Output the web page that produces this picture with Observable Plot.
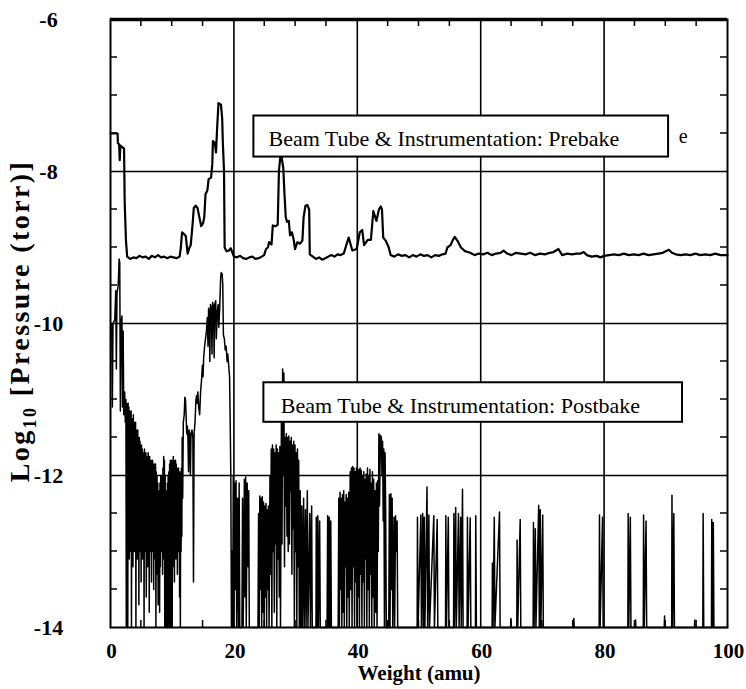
<!DOCTYPE html>
<html>
<head>
<meta charset="utf-8">
<script src="https://cdn.jsdelivr.net/npm/d3@7"></script>
<script src="https://cdn.jsdelivr.net/npm/@observablehq/plot@0.6"></script>
<style>
  html, body { margin: 0; padding: 0; background: white; }
  #chart svg { display: block; }
</style>
</head>
<body>
<div id="chart"></div>
<script>
// ---- data ----
const xTicks = [0, 20, 40, 60, 80, 100];
const yTicks = [-6, -8, -10, -12, -14];
const gridX = [20, 40, 60, 80];
const gridY = [-8, -10, -12];
const minorX = [5, 10, 15, 25, 30, 35, 45, 50, 55, 65, 70, 75, 85, 90, 95];
const minorY = [-13.5, -13, -12.5, -11.5, -11, -10.5, -9.5, -9, -8.5, -7.5, -7, -6.5];

// Prebake spectrum [amu, log10 P]
const prebake = [
[0,-7.5],[1.15,-7.5],[1.2,-7.63],[1.4,-7.64],[1.5,-7.85],[1.6,-7.66],[1.9,-7.68],[2.2,-7.7],[2.3,-8.4],[2.5,-8.9],[2.7,-9.12],
[3.2,-9.15],[3.7,-9.13],[4.2,-9.14],[4.7,-9.11],[5.2,-9.13],[5.7,-9.12],[6.2,-9.15],[6.7,-9.11],[7.2,-9.13],[7.7,-9.10],[8.2,-9.13],[8.7,-9.12],[9.2,-9.14],[9.7,-9.12],[10.2,-9.13],[10.7,-9.14],[11.2,-9.12],
[11.4,-9.0],[11.6,-8.8],[11.9,-8.82],[12.2,-8.85],[12.5,-9.08],[12.8,-9.0],[13.0,-8.97],[13.3,-8.7],[13.5,-8.48],[13.8,-8.45],[14.1,-8.48],[14.4,-8.6],[14.7,-8.72],[15.0,-8.68],[15.2,-8.6],[15.4,-8.3],[15.7,-8.25],[15.9,-8.1],[16.3,-8.08],[16.5,-7.9],[16.6,-7.6],[16.9,-7.62],[17.1,-7.75],[17.3,-7.4],[17.5,-7.1],[17.9,-7.12],[18.1,-7.3],[18.2,-7.6],[18.4,-8.0],[18.5,-9.0],[18.8,-9.05],[19.2,-9.04],[19.5,-9.01],[20.0,-9.12],
[20.5,-9.13],[21.0,-9.11],[21.5,-9.14],[22.0,-9.15],[22.5,-9.13],[23.0,-9.12],[23.5,-9.15],[24.0,-9.14],[24.5,-9.12],[24.9,-9.1],[25.2,-9.02],[25.5,-9.0],[25.7,-8.93],[26.1,-8.96],[26.3,-8.71],[26.8,-8.72],[27.1,-8.7],[27.3,-7.99],[27.6,-7.75],[28.0,-7.95],[28.2,-8.3],[28.4,-8.6],[28.6,-8.66],[28.9,-8.65],[29.1,-8.84],[29.4,-8.8],[29.7,-8.9],[29.9,-9.02],[30.3,-8.93],[30.7,-8.95],[31.1,-8.91],[31.3,-8.6],[31.6,-8.45],[31.9,-8.44],[32.2,-8.5],[32.3,-9.09],[32.8,-9.12],[33.3,-9.15],[33.8,-9.13],[34.3,-9.16],[34.8,-9.14],[35.3,-9.12],[35.8,-9.1],[36.3,-9.12],[36.8,-9.09],[37.3,-9.1],[37.8,-9.08],[38.1,-9.0],[38.6,-8.87],[39.2,-9.04],[39.9,-9.02],[40.4,-8.8],[40.8,-8.77],[41.1,-8.97],[41.7,-8.9],[42.2,-8.9],[42.6,-8.52],[43.1,-8.65],[43.5,-8.5],[43.8,-8.46],[44.0,-8.5],[44.2,-8.87],[44.6,-8.91],[45.1,-9.0],[45.4,-9.1],
[46.0,-9.12],[46.6,-9.09],[47.2,-9.11],[47.8,-9.1],[48.4,-9.13],[49.0,-9.1],[49.6,-9.12],[50.2,-9.09],[50.8,-9.11],[51.4,-9.1],[52.0,-9.13],[52.6,-9.1],[53.2,-9.11],[53.8,-9.09],[54.3,-9.08],[54.6,-9.0],[55.1,-8.97],[55.5,-8.9],[55.8,-8.86],[56.3,-8.92],[56.8,-9.0],[57.5,-9.05],[58.3,-9.07],[59.0,-9.1],[59.7,-9.08],[60.4,-9.09],[61.1,-9.07],[61.8,-9.1],[62.5,-9.08],[63.2,-9.07],[63.7,-9.04],[64.3,-9.08],[65.0,-9.1],[65.7,-9.07],[66.5,-9.08],[67.3,-9.09],[68.0,-9.07],[68.8,-9.1],[69.6,-9.08],[70.4,-9.09],[71.2,-9.07],[71.8,-9.06],[72.6,-9.02],[73.2,-9.1],[74.0,-9.08],[74.8,-9.09],[75.5,-9.08],[76.2,-9.08],[76.7,-9.06],[77.2,-9.1],[78.0,-9.12],[78.8,-9.11],[79.4,-9.13],[80.0,-9.11],[80.8,-9.1],[81.6,-9.09],[82.4,-9.1],[83.2,-9.08],[84.0,-9.1],[84.8,-9.09],[85.6,-9.1],[86.4,-9.08],[87.2,-9.1],[88.0,-9.09],[88.8,-9.08],[89.5,-9.07],[90.0,-9.05],[90.5,-9.03],[91.0,-9.07],[91.6,-9.09],[92.4,-9.1],[93.2,-9.09],[94.0,-9.1],[94.8,-9.08],[95.6,-9.1],[96.4,-9.09],[97.2,-9.1],[98.0,-9.08],[98.9,-9.1],[99.7,-9.1],[100,-9.1]
];

// Postbake spectrum, 0-20 amu
const postbakeLow = [
[0,-10.05],[0.2,-10.0],[0.3,-11.1],[0.4,-10.0],[0.7,-9.95],[0.85,-9.57],[0.95,-10.6],[1.05,-9.6],[1.25,-9.5],[1.4,-9.15],[1.5,-9.2],[1.6,-11.15],[1.7,-10.0],[1.85,-9.9],[1.95,-11.1],[2.05,-10.1],[2.15,-11.2],[2.3,-10.9],[2.4,-11.3],
[2.50,-11.0],[2.56,-14.0],[2.62,-11.05],[2.68,-13.2],[2.74,-11.1],[2.80,-14.0],[2.86,-11.05],[2.92,-12.9],[2.98,-11.1],[3.04,-13.1],[3.10,-11.15],[3.16,-12.8],[3.22,-11.2],[3.28,-13.0],[3.34,-11.15],[3.40,-14.0],[3.46,-11.25],[3.52,-12.7],[3.58,-11.3],[3.64,-13.2],[3.70,-11.2],[3.76,-12.9],[3.82,-11.3],[3.88,-13.0],[3.94,-11.35],[4.00,-12.8],[4.06,-11.3],[4.12,-14.0],[4.18,-11.4],[4.24,-12.9],[4.30,-11.45],[4.36,-13.1],[4.42,-11.4],[4.48,-12.8],[4.54,-11.5],[4.60,-13.7],[4.66,-11.5],[4.72,-12.9],[4.78,-11.55],[4.84,-13.0],[4.90,-11.6],[4.96,-13.4],[5.02,-11.6],[5.08,-12.9],[5.14,-11.65],[5.20,-13.1],[5.26,-11.7],[5.32,-12.8],[5.38,-11.7],[5.44,-14.0],[5.50,-11.65],[5.56,-12.9],[5.62,-11.75],[5.68,-13.0],[5.74,-11.7],[5.80,-13.6],[5.86,-11.75],[5.92,-12.9],[5.98,-11.8],[6.04,-13.2],[6.10,-11.7],[6.16,-12.9],[6.22,-11.8],[6.28,-13.8],[6.34,-11.75],[6.40,-13.0],[6.46,-11.85],[6.52,-12.9],[6.58,-11.8],[6.64,-13.4],[6.70,-11.85],[6.76,-13.0],[6.82,-11.8],[6.88,-12.9],[6.94,-11.9],[7.00,-13.5],[7.06,-11.85],[7.12,-13.0],[7.18,-11.9],[7.24,-13.1],[7.30,-11.85],[7.36,-14.0],[7.42,-11.95],[7.48,-12.9],[7.54,-12.0],[7.60,-13.3],[7.66,-12.1],[7.72,-13.7],[7.78,-12.3],[7.84,-13.0],[7.90,-12.2],[7.96,-13.8],[8.02,-12.1],[8.08,-13.2],[8.14,-12.0],[8.20,-12.8],
[8.26,-12.15],[8.32,-13.0],[8.38,-12.0],[8.44,-13.3],[8.50,-11.9],[8.56,-12.9],[8.62,-11.75],[8.68,-13.1],[8.74,-11.8],[8.80,-14.0],[8.86,-12.0],[8.92,-13.6],[8.98,-12.2],[9.04,-14.0],[9.10,-12.3],[9.16,-13.5],[9.22,-12.1],[9.28,-14.0],[9.34,-12.0],[9.40,-13.8],[9.46,-11.95],[9.52,-14.0],[9.58,-11.85],[9.64,-13.7],[9.70,-11.8],[9.76,-14.0],[9.82,-11.9],[9.88,-13.6],[9.94,-11.8],[10.00,-14.0],[10.06,-11.85],[10.12,-13.2],[10.18,-11.75],[10.24,-12.9],[10.30,-11.8],[10.36,-13.4],[10.42,-11.9],[10.48,-12.9],[10.54,-11.8],[10.60,-13.1],[10.66,-11.85],[10.72,-12.8],[10.78,-11.9],[10.84,-13.3],[10.90,-11.95],[10.96,-12.9],[11.02,-11.9],[11.08,-13.0],[11.14,-12.0],[11.20,-13.6],[11.26,-11.95],[11.32,-14.0],[11.38,-12.05],[11.44,-13.0],[11.50,-11.9],[11.56,-12.8],[11.62,-11.5],[11.70,-12.3],[11.80,-11.3],[11.95,-11.2],[12.05,-10.97],[12.15,-11.0],[12.25,-11.2],[12.35,-11.45],[12.45,-11.35],[12.55,-11.5],[12.65,-11.95],[12.75,-11.4],[12.85,-11.5],[12.95,-12.0],[13.05,-11.45],[13.2,-11.4],[13.35,-11.5],[13.45,-13.4],[13.55,-11.45],[13.7,-11.3],[13.85,-11.0],[13.95,-10.95],[14.05,-11.05],[14.15,-10.9],[14.3,-11.1],[14.45,-11.2],[14.6,-10.9],[14.75,-10.75],[14.9,-10.55],[15.0,-10.7],[15.1,-10.45],[15.25,-10.3],[15.4,-10.2],[15.55,-10.1],[15.7,-9.92],[15.8,-10.3],[15.9,-9.8],[16.0,-9.85],[16.1,-10.5],[16.2,-9.75],[16.35,-9.8],[16.45,-10.4],[16.55,-9.72],[16.7,-9.78],[16.8,-10.45],[16.9,-9.75],[17.05,-9.7],[17.15,-10.2],[17.3,-9.85],[17.45,-9.75],[17.55,-10.05],[17.7,-9.8],[17.85,-9.4],[17.95,-9.33],[18.1,-9.35],[18.2,-9.5],[18.3,-10.15],[18.45,-10.2],[18.6,-10.35],[18.75,-10.3],[18.9,-10.5],[19.0,-10.4],[19.15,-10.55],[19.3,-10.7],[19.4,-11.3],[19.5,-12.0],[19.6,-14.0],[19.7,-13.0],[19.8,-14.0]
];

// Postbake spectrum, 20-46.5 amu
const postbakeMid = [
[19.9,-12.0],[20.0,-14.0],[20.1,-12.1],[20.25,-13.5],[20.35,-12.07],[20.45,-14.0],[20.6,-12.3],[20.75,-14.0],[20.85,-12.1],[20.95,-14.0],[21.3,-14.0],[21.4,-12.3],[21.5,-14.0],[21.7,-12.05],[21.8,-13.6],[21.9,-12.02],[22.0,-14.0],[22.15,-12.1],[22.3,-13.2],[22.4,-12.2],[22.5,-14.0],
[23.9,-14.0],[24.0,-12.5],[24.1,-14.0],[24.2,-12.27],[24.3,-13.5],[24.4,-12.3],[24.5,-14.0],[24.6,-12.28],[24.7,-13.8],[24.8,-12.35],[24.9,-14.0],[25.0,-12.4],[25.1,-13.6],[25.2,-12.37],[25.3,-14.0],[25.4,-12.45],[25.5,-13.5],[25.6,-12.4],[25.7,-14.0],[25.85,-12.0],[25.95,-13.3],[26.05,-11.65],[26.15,-14.0],[26.25,-11.6],[26.35,-13.0],[26.45,-11.65],[26.55,-13.8],[26.65,-11.7],[26.75,-12.9],[26.85,-11.6],[26.95,-14.0],[27.05,-11.65],[27.15,-13.1],[27.25,-11.7],[27.35,-13.6],[27.45,-11.62],[27.55,-14.0],[27.7,-11.3],[27.8,-12.9],[27.9,-10.6],[28.0,-12.0],[28.1,-10.65],[28.2,-13.2],[28.3,-11.5],[28.4,-12.4],[28.5,-11.45],[28.6,-12.8],[28.7,-11.5],[28.8,-13.0],[28.9,-11.48],[29.0,-12.9],[29.1,-11.55],[29.2,-12.2],[29.3,-11.5],[29.4,-13.3],[29.5,-11.6],[29.6,-12.7],[29.7,-11.55],[29.8,-14.0],[29.9,-11.6],[30.0,-13.0],[30.1,-11.7],[30.2,-14.0],[30.3,-11.65],[30.4,-13.2],[30.5,-11.8],[30.6,-14.0],[30.75,-12.2],[30.85,-14.0],[31.0,-12.4],[31.1,-14.0],[31.3,-12.3],[31.4,-14.0],[31.6,-12.45],[31.7,-14.0],[31.9,-12.2],[32.0,-14.0],[32.3,-12.5],[32.4,-14.0],[32.6,-12.4],[32.7,-14.0],
[33.3,-14.0],[33.35,-12.55],[33.45,-14.0],[33.6,-12.53],[33.7,-14.0],[33.9,-12.6],[34.0,-14.0],[35.1,-14.0],[35.2,-12.53],[35.3,-14.0],[35.45,-12.55],[35.55,-14.0],[35.7,-12.6],[35.8,-14.0],
[36.9,-14.0],[37.0,-12.3],[37.1,-14.0],[37.2,-12.22],[37.3,-13.5],[37.4,-12.3],[37.5,-14.0],[37.6,-12.25],[37.7,-13.8],[37.8,-12.2],[37.9,-14.0],[38.0,-12.35],[38.1,-13.2],[38.2,-12.25],[38.3,-14.0],[38.4,-12.3],[38.5,-13.6],[38.6,-12.22],[38.7,-14.0],[38.85,-11.95],[38.95,-13.5],[39.05,-11.9],[39.15,-14.0],[39.25,-11.88],[39.35,-13.2],[39.45,-11.9],[39.55,-14.0],[39.65,-11.95],[39.75,-13.4],[39.85,-11.9],[39.95,-14.0],[40.05,-11.95],[40.15,-13.6],[40.25,-11.92],[40.35,-14.0],[40.45,-11.9],[40.55,-13.3],[40.65,-11.93],[40.75,-14.0],[40.85,-12.0],[40.95,-13.4],[41.05,-11.95],[41.15,-14.0],[41.25,-12.05],[41.35,-13.1],[41.45,-11.98],[41.55,-14.0],[41.65,-11.9],[41.75,-13.5],[41.85,-12.0],[41.95,-14.0],[42.05,-11.92],[42.15,-13.3],[42.25,-12.1],[42.35,-14.0],[42.45,-11.95],[42.55,-13.6],[42.65,-12.05],[42.75,-14.0],[42.9,-12.2],[43.0,-13.8],[43.1,-12.1],[43.2,-14.0],[43.3,-12.07],[43.4,-13.0],[43.5,-11.45],[43.6,-12.4],[43.75,-11.47],[43.9,-11.5],[44.0,-12.0],[44.1,-11.55],[44.2,-12.6],[44.3,-11.65],[44.4,-14.0],[44.5,-11.7],[44.6,-12.5],[44.7,-14.0],
[45.1,-14.0],[45.2,-12.25],[45.3,-14.0],[45.45,-12.24],[45.55,-13.5],[45.65,-12.3],[45.75,-14.0],[45.95,-12.55],[46.05,-14.0],[46.2,-12.53],[46.3,-13.0],[46.45,-12.6],[46.55,-14.0]
];

// Postbake spectrum, 46.5-100 amu
const postbakeHigh = [
[49.7,-14.0],[49.75,-12.55],[49.85,-14.0],[50.3,-12.52],[50.4,-14.0],[50.6,-12.5],[50.7,-14.0],[50.85,-12.55],[50.95,-14.0],[51.3,-12.15],[51.4,-14.0],[51.6,-12.52],[51.7,-14.0],[52.4,-12.53],[52.5,-14.0],[52.95,-12.58],[53.05,-14.0],
[54.3,-14.0],[54.35,-12.53],[54.45,-14.0],[54.75,-12.55],[54.85,-14.0],[55.6,-14.0],[55.65,-12.5],[55.75,-14.0],[55.95,-12.42],[56.05,-14.0],[56.4,-12.5],[56.5,-14.0],[56.75,-12.55],[56.85,-14.0],[57.05,-12.18],[57.15,-14.0],[57.8,-14.0],[57.85,-12.55],[57.95,-14.0],[58.3,-12.56],[58.4,-14.0],[59.15,-14.0],[59.2,-12.53],[59.3,-14.0],
[61.85,-14.0],[61.9,-13.15],[62.0,-14.0],[62.2,-12.55],[62.3,-14.0],[63.05,-12.48],[63.15,-14.0],[64.85,-14.0],[64.9,-13.88],[64.95,-14.0],[65.85,-14.0],[65.9,-12.85],[66.0,-14.0],[66.4,-12.58],[66.5,-14.0],
[68.5,-14.0],[68.55,-12.62],[68.65,-14.0],[68.85,-12.7],[68.95,-14.0],[69.4,-12.39],[69.5,-14.0],[69.65,-12.45],[69.75,-14.0],[70.05,-12.52],[70.15,-14.0],
[75.05,-14.0],[75.1,-13.88],[75.15,-14.0],[79.2,-14.0],[79.25,-12.52],[79.35,-14.0],[79.75,-12.55],[79.85,-14.0],[83.85,-14.0],[83.9,-12.5],[84.0,-14.0],[84.25,-12.55],[84.35,-14.0],[85.05,-14.0],[85.1,-13.9],[85.15,-14.0],[86.35,-14.0],[86.4,-12.52],[86.5,-14.0],[86.8,-12.6],[86.9,-14.0],
[89.75,-14.0],[89.8,-13.85],[89.85,-14.0],[90.95,-14.0],[91.0,-12.26],[91.1,-14.0],[91.3,-12.5],[91.4,-14.0],[94.65,-14.0],[94.7,-13.9],[94.75,-14.0],[96.0,-14.0],[96.05,-12.5],[96.15,-14.0],[97.4,-14.0],[97.45,-12.58],[97.55,-14.0],[97.7,-12.62],[97.8,-14.0],[100,-14.0]
];
const postbake = postbakeLow.concat(postbakeMid, postbakeHigh);

// Labelled boxes
const boxLabels = ["Beam Tube & Instrumentation: Prebake", "Beam Tube & Instrumentation: Postbake"];
const boxX1 = [23.24, 24.86];
const boxX2 = [90.45, 92.71];
const boxTop = [-7.27, -10.78];
const boxBottom = [-7.81, -11.30];
const labelX = [25.6, 27.6];
const labelY = [-7.566, -11.09];
const boxes = boxLabels.map((label, i) => ({label, x1: boxX1[i], x2: boxX2[i], y1: boxBottom[i], y2: boxTop[i], tx: labelX[i], ty: labelY[i]}));
const strayText = [{t: "e", x: 92.1, y: -7.54}];

const serif = "'Liberation Serif', 'Times New Roman', Times, serif";

const chart = Plot.plot({
  width: 746,
  height: 689,
  marginLeft: 110,
  marginRight: 19,
  marginTop: 19,
  marginBottom: 62,
  x: {domain: [0, 100]},
  y: {domain: [-14, -6]},
  style: {fontFamily: serif, background: "white", color: "black", overflow: "visible"},
  marks: [
    Plot.ruleX(gridX, {stroke: "black", strokeWidth: 1.6}),
    Plot.ruleY(gridY, {stroke: "black", strokeWidth: 1.6}),
    Plot.line(postbake, {x: d => d[0], y: d => d[1], stroke: "black", strokeWidth: 1.5}),
    Plot.line(prebake, {x: d => d[0], y: d => d[1], stroke: "black", strokeWidth: 2.2}),
    Plot.rect(boxes, {x1: "x1", x2: "x2", y1: "y1", y2: "y2", fill: "white", stroke: "black", strokeWidth: 2}),
    Plot.text(boxes, {x: "tx", y: "ty", text: "label", textAnchor: "start", fontSize: 22, fill: "black"}),
    Plot.text(strayText, {x: "x", y: "y", text: "t", textAnchor: "start", fontSize: 20, fill: "black"}),
    Plot.frame({stroke: "black", strokeWidth: 2}),
    Plot.ruleY([-6], {stroke: "black", strokeWidth: 3.5}),
    Plot.axisX(xTicks, {tickSize: 0, tickPadding: 16, dx: 1, fontSize: 21, fontWeight: "bold", tickFormat: d => String(d), label: null}),
    Plot.axisY(yTicks, {tickSize: 0, tickPadding: 62, textAnchor: "middle", fontSize: 22, fontWeight: "bold", tickFormat: d => String(d), label: null}),
    Plot.text(["Weight (amu)"], {frameAnchor: "bottom", dy: 52, text: d => d, fontSize: 21, fontWeight: "bold", fill: "black"})
  ]
});

document.getElementById("chart").appendChild(chart);

// inward minor ticks on all four sides, placed through the chart's own scales
const sx = chart.scale("x"), sy = chart.scale("y");
const svg = d3.select(chart);
const tickLen = 7;
const g = svg.append("g").attr("stroke", "black").attr("stroke-width", 1.5);
const yBottom = sy.apply(-14), yTop = sy.apply(-6), xLeft = sx.apply(0), xRight = sx.apply(100);
minorX.forEach(v => {
  const px = sx.apply(v);
  g.append("line").attr("x1", px).attr("x2", px).attr("y1", yBottom).attr("y2", yBottom - tickLen);
  g.append("line").attr("x1", px).attr("x2", px).attr("y1", yTop).attr("y2", yTop + tickLen);
});
minorY.forEach(v => {
  const py = sy.apply(v);
  g.append("line").attr("y1", py).attr("y2", py).attr("x1", xLeft).attr("x2", xLeft + tickLen);
  g.append("line").attr("y1", py).attr("y2", py).attr("x1", xRight).attr("x2", xRight - tickLen);
});

// Y-axis title with a real subscript
const title = svg.append("text")
  .attr("transform", "rotate(-90)")
  .attr("x", -321)
  .attr("y", 29)
  .attr("text-anchor", "middle")
  .attr("fill", "black")
  .style("font-family", serif)
  .style("font-weight", "bold")
  .style("font-size", "28px")
  .style("letter-spacing", "2.4px");
title.append("tspan").text("Log");
title.append("tspan").attr("dy", 7).style("font-size", "18px").text("10");
title.append("tspan").attr("dy", -7).text(" [Pressure (torr)]");
</script>
</body>
</html>
